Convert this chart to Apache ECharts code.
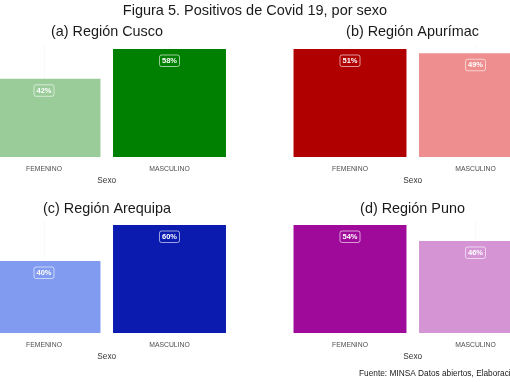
<!DOCTYPE html>
<html>
<head>
<meta charset="utf-8">
<script src="https://cdn.jsdelivr.net/npm/echarts@6/dist/echarts.min.js"></script>
<style>
html,body{margin:0;padding:0;background:#fff;}
#c{width:510px;height:382px;}
</style>
</head>
<body>
<div id="c"></div>
<script>
const categories = ['FEMENINO', 'MASCULINO'];
const panelTitles = ['(a) Región Cusco', '(b) Región Apurímac', '(c) Región Arequipa', '(d) Región Puno'];
const cuscoValues = [42, 58];
const apurimacValues = [51, 49];
const arequipaValues = [40, 60];
const punoValues = [54, 46];
const cuscoColors = ['#99CC99', '#008000'];
const apurimacColors = ['#B00000', '#EF8E8E'];
const arequipaColors = ['#809BEF', '#0B1BB0'];
const punoColors = ['#A00A9B', '#D595D5'];
const mainTitle = 'Figura 5. Positivos de Covid 19, por sexo';
const caption = 'Fuente: MINSA Datos abiertos, Elaboración propia';
const axisName = 'Sexo';

const panels = [
  {values: cuscoValues, colors: cuscoColors},
  {values: apurimacValues, colors: apurimacColors},
  {values: arequipaValues, colors: arequipaColors},
  {values: punoValues, colors: punoColors}
];

const font = 'Liberation Sans, Arial, sans-serif';
const gridW = 251;
const gridH = 108;
const colLeft = [-18.75, 287.25];
const rowTop = [49, 225];
const centers = [107, 412.5];
const titleTops = [25, 202];

const grids = [], xAxes = [], yAxes = [], series = [];
const titles = [{
  text: mainTitle, left: 'center', top: 3, padding: 0,
  textStyle: {fontSize: 14.5, fontWeight: 'normal', color: '#1a1a1a', fontFamily: font}
}];

panels.forEach((p, i) => {
  const col = i % 2, row = Math.floor(i / 2);
  grids.push({left: colLeft[col], top: rowTop[row], width: gridW, height: gridH,
              outerBoundsMode: 'none', containLabel: false});
  titles.push({
    text: panelTitles[i], left: centers[col], top: titleTops[row], textAlign: 'center', padding: 0,
    textStyle: {fontSize: 14.4, fontWeight: 'normal', color: '#1a1a1a', fontFamily: font}
  });
  xAxes.push({
    type: 'category', gridIndex: i, data: categories,
    name: axisName, nameLocation: 'middle', nameGap: 20,
    nameTextStyle: {fontSize: 8.3, color: '#333', fontFamily: font},
    axisLine: {show: false},
    axisTick: {show: true, alignWithLabel: true, inside: true, length: gridH + 4,
               lineStyle: {color: '#EBEBEB', width: 0.6, type: 'dotted'}},
    axisLabel: {fontSize: 6.8, color: '#4D4D4D', margin: 8.5, fontFamily: font},
    splitLine: {show: false}
  });
  yAxes.push({type: 'value', gridIndex: i, min: 0, max: Math.max(...p.values), show: false});
  series.push({
    type: 'bar', xAxisIndex: i, yAxisIndex: i, barWidth: '90%',
    data: p.values.map((v, k) => ({value: v, itemStyle: {color: p.colors[k]}})),
    label: {
      show: true, position: 'insideTop', distance: 6, formatter: '{c}%',
      color: '#fff', fontSize: 7.5, fontWeight: 'bold', fontFamily: font,
      borderColor: 'rgba(255,255,255,0.75)', borderWidth: 0.8, borderRadius: 2,
      padding: [2, 2.5, 1.5, 2.5]
    }
  });
});

titles.push({
  text: caption, left: 359, top: 370, padding: 0,
  textStyle: {fontSize: 8.3, fontWeight: 'normal', color: '#1a1a1a', fontFamily: font}
});

const chart = echarts.init(document.getElementById('c'), null, {renderer: 'canvas'});
chart.setOption({
  animation: false,
  backgroundColor: '#fff',
  title: titles,
  grid: grids,
  xAxis: xAxes,
  yAxis: yAxes,
  series: series
});
</script>
</body>
</html>
